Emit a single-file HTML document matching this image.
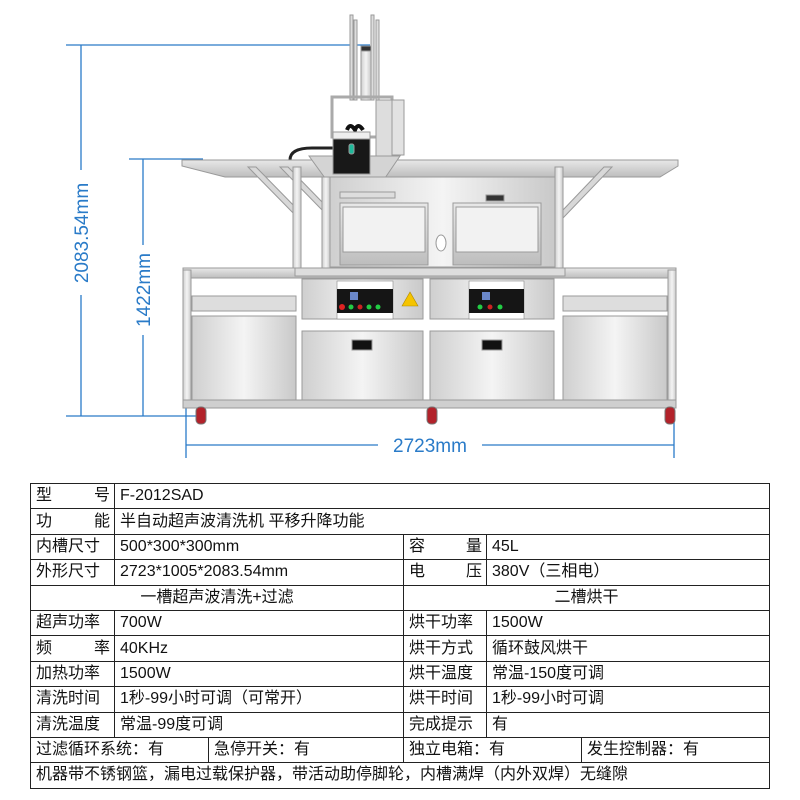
<!DOCTYPE html>
<html><head><meta charset="utf-8"><style>
body{margin:0;background:#fff;width:800px;height:800px;overflow:hidden;position:relative;font-family:"Liberation Sans","Noto Sans CJK SC",sans-serif}
svg{position:absolute;left:0;top:0}
table{position:absolute;left:30px;top:483px;width:740px;border-collapse:collapse;table-layout:fixed}
td{border:1.5px solid #222;height:24.4px;padding:0 0 0 5px;font-size:16px;color:#111;line-height:22px;white-space:nowrap;overflow:hidden}
.c{text-align:center;padding:0}
.j{text-align-last:justify;padding-right:4px}
</style></head><body>
<svg width="800" height="480" viewBox="0 0 800 480">
<defs>
<linearGradient id="ss" x1="0" x2="1"><stop offset="0" stop-color="#cfcfcf"/><stop offset=".5" stop-color="#f4f4f4"/><stop offset="1" stop-color="#c9c9c9"/></linearGradient>
<linearGradient id="sv" x1="0" y1="0" x2="0" y2="1"><stop offset="0" stop-color="#e8e8e8"/><stop offset="1" stop-color="#bdbdbd"/></linearGradient>
</defs>
<g stroke="#2a7bc8" stroke-width="1.3" fill="none">
<line x1="66" y1="45" x2="370" y2="45"/>
<line x1="66" y1="416" x2="200" y2="416"/>
<line x1="81" y1="45" x2="81" y2="170"/><line x1="81" y1="295" x2="81" y2="416"/>
<line x1="129" y1="159" x2="203" y2="159"/>
<line x1="143" y1="159" x2="143" y2="245"/><line x1="143" y1="335" x2="143" y2="416"/>
<line x1="186" y1="405" x2="186" y2="458"/><line x1="674" y1="405" x2="674" y2="458"/>
<line x1="186" y1="445" x2="378" y2="445"/><line x1="482" y1="445" x2="674" y2="445"/>
</g>
<g fill="#2a7bc8" font-family="Liberation Sans,sans-serif" font-size="19">
<text x="430" y="452" text-anchor="middle">2723mm</text>
<text transform="translate(88,233) rotate(-90)" text-anchor="middle">2083.54mm</text>
<text transform="translate(150,290) rotate(-90)" text-anchor="middle">1422mm</text>
</g>
<g stroke="#9a9a9a" stroke-width="1">
<rect x="350" y="15" width="3" height="85" fill="#ddd"/><rect x="354" y="20" width="3" height="80" fill="#ddd"/>
<rect x="371" y="15" width="3" height="85" fill="#ddd"/><rect x="376" y="20" width="3" height="80" fill="#ddd"/>
<rect x="361" y="46" width="10" height="54" fill="url(#ss)"/>
<rect x="361" y="46" width="10" height="5" fill="#333"/>
<rect x="332" y="97" width="60" height="40" fill="none" stroke="#aaa" stroke-width="3"/>
<rect x="392" y="100" width="12" height="55" fill="#e2e2e2"/>
<rect x="376" y="100" width="16" height="56" fill="#ddd"/>
<path d="M347 130 q3-8 8 0 q3-8 8 0" stroke="#111" stroke-width="4" fill="none"/>
<path d="M290 160 q0-12 22-12 h22" stroke="#222" stroke-width="3" fill="none"/>
<polygon points="182,160 678,160 678,166 660,177 560,177 300,177 225,177 182,166" fill="url(#sv)"/>
<polygon points="309,156 400,156 385,178 325,178" fill="#d4d4d4"/>
<rect x="333" y="132" width="37" height="42" fill="#181818"/>
<rect x="333" y="132" width="37" height="7" fill="#eee"/>
<rect x="349" y="144" width="5" height="10" rx="2" fill="#1fb89a"/>
<polygon points="248,167 256,167 300,212 300,220" fill="#d8d8d8"/>
<polygon points="280,167 288,167 325,205 325,213" fill="#d8d8d8"/>
<polygon points="612,167 604,167 563,210 563,218" fill="#d8d8d8"/>
<rect x="293" y="167" width="8" height="110" fill="url(#ss)"/>
<rect x="322" y="177" width="8" height="100" fill="url(#ss)"/>
<rect x="555" y="167" width="8" height="110" fill="url(#ss)"/>
<rect x="330" y="177" width="225" height="90" fill="url(#ss)"/>
<rect x="340" y="203" width="88" height="62" fill="url(#sv)"/>
<rect x="343" y="207" width="82" height="45" fill="#f2f2f2"/>
<rect x="453" y="203" width="88" height="62" fill="url(#sv)"/>
<rect x="456" y="207" width="82" height="45" fill="#f2f2f2"/>
<rect x="340" y="192" width="55" height="6" fill="#ddd"/>
<rect x="486" y="195" width="18" height="6" fill="#333"/>
<ellipse cx="441" cy="243" rx="5" ry="8" fill="#fff"/>
<rect x="183" y="268" width="493" height="10" fill="url(#sv)"/>
<rect x="183" y="270" width="8" height="135" fill="url(#ss)"/>
<rect x="668" y="270" width="8" height="135" fill="url(#ss)"/>
<rect x="295" y="268" width="270" height="8" fill="#ddd"/>
<rect x="192" y="296" width="104" height="15" fill="#ddd"/>
<rect x="563" y="296" width="104" height="15" fill="#ddd"/>
<rect x="192" y="316" width="104" height="84" fill="url(#ss)"/>
<rect x="563" y="316" width="104" height="84" fill="url(#ss)"/>
<rect x="302" y="279" width="121" height="40" fill="url(#ss)"/>
<rect x="430" y="279" width="124" height="40" fill="url(#ss)"/>
<rect x="302" y="331" width="121" height="69" fill="url(#ss)"/>
<rect x="430" y="331" width="124" height="69" fill="url(#ss)"/>
<rect x="183" y="400" width="493" height="8" fill="#cfcfcf"/>
<rect x="352" y="340" width="20" height="10" fill="#111"/>
<rect x="482" y="340" width="20" height="10" fill="#111"/>
</g>
<g>
<rect x="337" y="281" width="56" height="38" fill="#fff" stroke="#888" stroke-width=".6"/>
<rect x="337" y="289" width="56" height="24" fill="#151515"/>
<rect x="469" y="281" width="55" height="38" fill="#fff" stroke="#888" stroke-width=".6"/>
<rect x="469" y="289" width="55" height="24" fill="#151515"/>
<circle cx="342" cy="307" r="3" fill="#d22"/><circle cx="351" cy="307" r="2.5" fill="#2c4"/><circle cx="360" cy="307" r="2.5" fill="#c22"/><circle cx="369" cy="307" r="2.5" fill="#2c4"/><circle cx="378" cy="307" r="2.5" fill="#2c4"/>
<circle cx="480" cy="307" r="2.5" fill="#2c4"/><circle cx="490" cy="307" r="2.5" fill="#c22"/><circle cx="500" cy="307" r="2.5" fill="#2c4"/>
<rect x="350" y="292" width="8" height="8" fill="#6a87c8"/><rect x="482" y="292" width="8" height="8" fill="#6a87c8"/>
<polygon points="410,292 402,306 418,306" fill="#f5c400" stroke="#b08a00" stroke-width=".6"/>
</g>
<g fill="#b2222a" stroke="#777" stroke-width="1">
<rect x="196" y="407" width="10" height="17" rx="4"/>
<rect x="427" y="407" width="10" height="17" rx="4"/>
<rect x="665" y="407" width="10" height="17" rx="4"/>
</g>
</svg>
<table>
<colgroup><col style="width:84px"><col style="width:94px"><col style="width:195px"><col style="width:83px"><col style="width:95px"><col></colgroup>
<tr><td class="j">型 号</td><td colspan="5">F-2012SAD</td></tr>
<tr><td class="j">功 能</td><td colspan="5">半自动超声波清洗机 平移升降功能</td></tr>
<tr><td>内槽尺寸</td><td colspan="2">500*300*300mm</td><td class="j">容 量</td><td colspan="2">45L</td></tr>
<tr><td>外形尺寸</td><td colspan="2">2723*1005*2083.54mm</td><td class="j">电 压</td><td colspan="2">380V（三相电）</td></tr>
<tr><td colspan="3" class="c">一槽超声波清洗+过滤</td><td colspan="3" class="c">二槽烘干</td></tr>
<tr><td>超声功率</td><td colspan="2">700W</td><td>烘干功率</td><td colspan="2">1500W</td></tr>
<tr><td class="j">频 率</td><td colspan="2">40KHz</td><td>烘干方式</td><td colspan="2">循环鼓风烘干</td></tr>
<tr><td>加热功率</td><td colspan="2">1500W</td><td>烘干温度</td><td colspan="2">常温-150度可调</td></tr>
<tr><td>清洗时间</td><td colspan="2">1秒-99小时可调（可常开）</td><td>烘干时间</td><td colspan="2">1秒-99小时可调</td></tr>
<tr><td>清洗温度</td><td colspan="2">常温-99度可调</td><td>完成提示</td><td colspan="2">有</td></tr>
<tr><td colspan="2">过滤循环系统：有</td><td>急停开关：有</td><td colspan="2">独立电箱：有</td><td>发生控制器：有</td></tr>
<tr><td colspan="6">机器带不锈钢篮，漏电过载保护器，带活动助停脚轮，内槽满焊（内外双焊）无缝隙</td></tr>
</table>
</body></html>
